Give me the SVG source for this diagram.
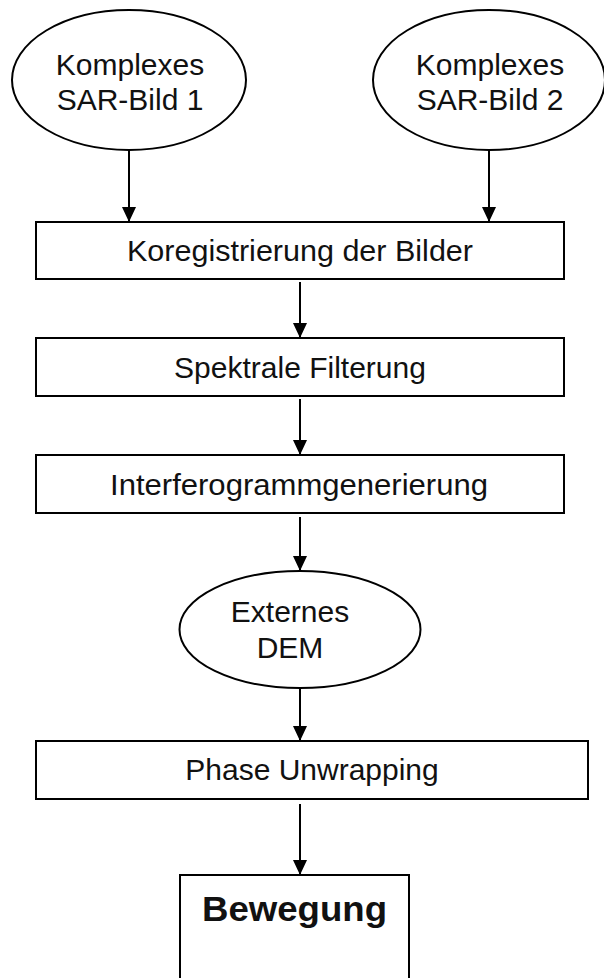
<svg xmlns="http://www.w3.org/2000/svg" width="604" height="978" viewBox="0 0 604 978">
  <style>
    .shape { fill: #ffffff; stroke: #000000; stroke-width: 2; }
    .label { font-family: "Liberation Sans", Arial, sans-serif; font-size: 30px; fill: #111111; text-anchor: middle; }
    .bold { font-weight: bold; font-size: 35px; }
    .edge { stroke: #000000; stroke-width: 2; fill: none; marker-end: url(#arrow); }
  </style>
  <defs>
    <!-- filled triangular head, tip placed on the end of the line -->
    <marker id="arrow" viewBox="0 0 15 14" refX="15" refY="7" markerWidth="15" markerHeight="14" markerUnits="userSpaceOnUse" orient="auto">
      <path d="M0,0 L15,7 L0,14 Z" fill="#000000"/>
    </marker>
  </defs>
  <rect width="604" height="978" fill="#ffffff"/>

  <g id="sar1">
    <ellipse class="shape" cx="129" cy="80" rx="117" ry="70"/>
    <text class="label" x="130" y="75">Komplexes</text>
    <text class="label" x="130" y="110">SAR-Bild 1</text>
  </g>
  <g id="sar2">
    <ellipse class="shape" cx="489" cy="80" rx="116" ry="70"/>
    <text class="label" x="490" y="75">Komplexes</text>
    <text class="label" x="490" y="110">SAR-Bild 2</text>
  </g>
  <g id="koregistrierung">
    <rect class="shape" x="36" y="222" width="528" height="57"/>
    <text class="label" x="300" y="261" textLength="346" lengthAdjust="spacingAndGlyphs">Koregistrierung der Bilder</text>
  </g>
  <g id="filterung">
    <rect class="shape" x="36" y="338" width="528" height="58"/>
    <text class="label" x="300" y="378">Spektrale Filterung</text>
  </g>
  <g id="interferogramm">
    <rect class="shape" x="36" y="455" width="528" height="58"/>
    <text class="label" x="299" y="495" textLength="378" lengthAdjust="spacingAndGlyphs">Interferogrammgenerierung</text>
  </g>
  <g id="dem">
    <ellipse class="shape" cx="300" cy="629.5" rx="120.5" ry="58.5"/>
    <text class="label" x="290" y="622">Externes</text>
    <text class="label" x="290" y="658">DEM</text>
  </g>
  <g id="unwrapping">
    <rect class="shape" x="36" y="741" width="552" height="58"/>
    <text class="label" x="312" y="780">Phase Unwrapping</text>
  </g>
  <g id="bewegung">
    <rect class="shape" x="180" y="875" width="229" height="120"/>
    <text class="label bold" x="294.5" y="921" textLength="185" lengthAdjust="spacingAndGlyphs">Bewegung</text>
  </g>

  <g id="connectors">
    <path class="edge" d="M129,150 V222"/>
    <path class="edge" d="M489,150 V222"/>
    <path class="edge" d="M300,282 V338"/>
    <path class="edge" d="M300,399 V455"/>
    <path class="edge" d="M300,517 V571"/>
    <path class="edge" d="M300,688 V741"/>
    <path class="edge" d="M300,804 V875"/>
  </g>
</svg>
